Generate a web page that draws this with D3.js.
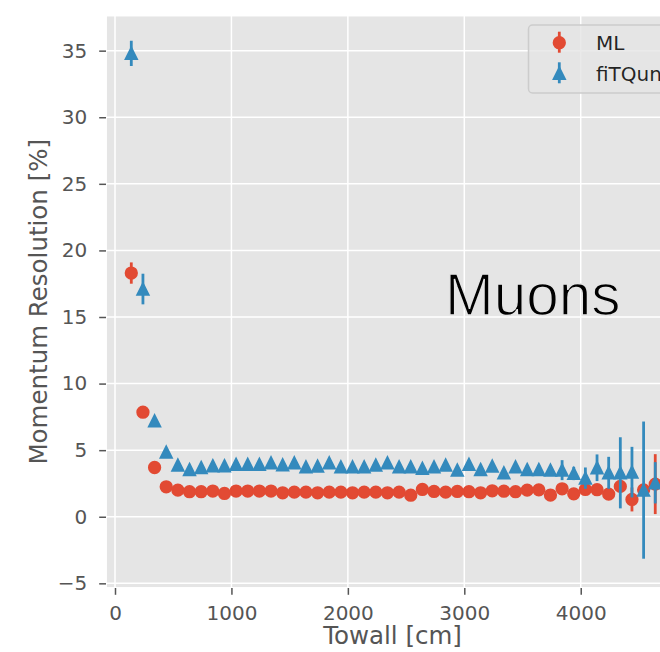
<!DOCTYPE html>
<html>
<head>
<meta charset="utf-8">
<script src="https://cdn.jsdelivr.net/npm/d3@7"></script>
<style>
  html, body { margin: 0; padding: 0; background: #ffffff; overflow: hidden; }
  svg { display: block; }
</style>
</head>
<body>
<script>
// Towall bin centres [cm]
const towall = [140, 240, 340, 440, 540, 640, 740, 840, 940, 1040,
  1140, 1240, 1340, 1440, 1540, 1640, 1740, 1840, 1940, 2040,
  2140, 2240, 2340, 2440, 2540, 2640, 2740, 2840, 2940, 3040,
  3140, 3240, 3340, 3440, 3540, 3640, 3740, 3840, 3940, 4040,
  4140, 4240, 4340, 4440, 4540, 4640];

// ML momentum resolution [%] and its uncertainty
const mlRes = [18.3, 7.85, 3.7, 2.25, 2.0, 1.88, 1.88, 1.93, 1.75, 1.93,
  1.93, 1.93, 1.93, 1.8, 1.85, 1.85, 1.8, 1.85, 1.85, 1.8,
  1.85, 1.85, 1.8, 1.85, 1.62, 2.05, 1.9, 1.85, 1.9, 1.88,
  1.8, 1.95, 1.92, 1.88, 2.0, 2.02, 1.63, 2.1, 1.72, 2.05,
  2.03, 1.7, 2.28, 1.3, 2.02, 2.45];
const mlErr = [0.8, 0.3, 0.2, 0.15, 0.1, 0.1, 0.1, 0.1, 0.1, 0.1,
  0.1, 0.1, 0.1, 0.1, 0.1, 0.1, 0.1, 0.1, 0.1, 0.1,
  0.1, 0.1, 0.1, 0.1, 0.1, 0.1, 0.1, 0.1, 0.1, 0.1,
  0.1, 0.1, 0.1, 0.1, 0.15, 0.15, 0.15, 0.15, 0.2, 0.2,
  0.25, 0.3, 0.4, 0.9, 0.4, 2.25];

// fiTQun momentum resolution [%] and its uncertainty
const fqRes = [34.8, 17.1, 7.2, 4.85, 3.88, 3.55, 3.7, 3.83, 3.83, 3.93,
  3.93, 3.93, 4.05, 3.9, 4.05, 3.75, 3.8, 4.05, 3.75, 3.75,
  3.75, 3.88, 4.05, 3.75, 3.75, 3.63, 3.75, 3.88, 3.5, 3.93,
  3.55, 3.8, 3.3, 3.75, 3.55, 3.55, 3.5, 3.5, 3.25, 2.9,
  3.68, 3.3, 3.3, 3.35, 2.0, 2.55];
const fqErr = [0.95, 1.15, 0.3, 0.2, 0.15, 0.15, 0.15, 0.15, 0.15, 0.15,
  0.15, 0.15, 0.15, 0.15, 0.15, 0.15, 0.15, 0.15, 0.15, 0.15,
  0.15, 0.15, 0.2, 0.2, 0.2, 0.2, 0.2, 0.2, 0.2, 0.2,
  0.25, 0.25, 0.25, 0.3, 0.3, 0.3, 0.35, 0.75, 0.5, 0.8,
  1.0, 1.2, 2.67, 1.9, 5.15, 1.55];

const xTicks = [0, 1000, 2000, 3000, 4000];
const yTicks = [-5, 0, 5, 10, 15, 20, 25, 30, 35];
const seriesNames = ["ML", "fiTQun"];

const W = 660, H = 652;
const RED = "#E24A33", BLUE = "#348ABD", TXT = "#555555";
const FONT = "DejaVu Sans, sans-serif";

const svg = d3.select("body").append("svg")
  .attr("width", W).attr("height", H);

const x = d3.scaleLinear().domain([-77.3, 4844]).range([106, 679]);
const y = d3.scaleLinear().domain([-5.35, 37.64]).range([588, 15.5]);
const [xl, xr] = x.range();
const [yb, yt] = y.range();

// axes background
svg.append("rect")
  .attr("x", xl).attr("y", yt)
  .attr("width", xr - xl).attr("height", yb - yt)
  .attr("fill", "#E5E5E5");

// grid
const grid = svg.append("g");
grid.selectAll("line.gx").data(xTicks).join("line")
  .attr("x1", d => x(d)).attr("x2", d => x(d))
  .attr("y1", yt).attr("y2", yb)
  .attr("stroke", "#fff").attr("stroke-width", 1.5);
grid.selectAll("line.gy").data(yTicks).join("line")
  .attr("y1", d => y(d)).attr("y2", d => y(d))
  .attr("x1", xl).attr("x2", xr)
  .attr("stroke", "#fff").attr("stroke-width", 1.5);

// white frame edge
svg.append("rect")
  .attr("x", xl).attr("y", yt)
  .attr("width", xr - xl).attr("height", yb - yt)
  .attr("fill", "none").attr("stroke", "#fff").attr("stroke-width", 1.9);

// axes
const fmt = d3.format("d");
const yAxis = svg.append("g")
  .attr("transform", `translate(${xl},0)`)
  .call(d3.axisLeft(y).tickValues(yTicks).tickFormat(fmt).tickSize(6.8).tickPadding(12));
const xAxis = svg.append("g")
  .attr("transform", `translate(0,${yb})`)
  .call(d3.axisBottom(x).tickValues(xTicks).tickFormat(fmt).tickSize(6.8).tickPadding(10.5));
[yAxis, xAxis].forEach(g => {
  g.select(".domain").remove();
  g.selectAll(".tick line").attr("stroke", TXT).attr("stroke-width", 1.5);
  g.selectAll(".tick text").attr("fill", TXT)
    .style("font-family", FONT).style("font-size", "20px");
});

// axis labels, centred on the axes box
svg.append("text")
  .attr("x", (xl + xr) / 2).attr("y", 644)
  .attr("text-anchor", "middle")
  .style("font-family", FONT).style("font-size", "24.5px").attr("fill", TXT)
  .text("Towall [cm]");
svg.append("text")
  .attr("transform", `translate(46.5,${(yb + yt) / 2}) rotate(-90)`)
  .attr("text-anchor", "middle")
  .style("font-family", FONT).style("font-size", "24.5px").attr("fill", TXT)
  .text("Momentum Resolution [%]");

// data clipped to the axes
svg.append("defs").append("clipPath").attr("id", "plotclip")
  .append("rect")
  .attr("x", xl).attr("y", yt)
  .attr("width", xr - xl).attr("height", yb - yt);
const plot = svg.append("g").attr("clip-path", "url(#plotclip)");

const MS = 5.7; // half marker size in px
const triPath = `M0,${-MS}L${MS},${MS}L${-MS},${MS}Z`;

function drawSeries(vals, errs, color, marker) {
  const pts = towall.map((t, i) => ({ t, v: vals[i], e: errs[i] }));
  const g = plot.append("g");
  g.selectAll("line").data(pts).join("line")
    .attr("x1", d => x(d.t)).attr("x2", d => x(d.t))
    .attr("y1", d => y(d.v - d.e)).attr("y2", d => y(d.v + d.e))
    .attr("stroke", color).attr("stroke-width", 2.8);
  if (marker === "o") {
    g.selectAll("circle").data(pts).join("circle")
      .attr("cx", d => x(d.t)).attr("cy", d => y(d.v)).attr("r", MS)
      .attr("fill", color).attr("stroke", color).attr("stroke-width", 1.9);
  } else {
    g.selectAll("path").data(pts).join("path")
      .attr("transform", d => `translate(${x(d.t)},${y(d.v)})`)
      .attr("d", triPath)
      .attr("fill", color).attr("stroke", color).attr("stroke-width", 1.9)
      .attr("stroke-linejoin", "miter");
  }
}
drawSeries(mlRes, mlErr, RED, "o");
drawSeries(fqRes, fqErr, BLUE, "^");

// annotation (thin-weight look: fill, then a background-coloured outline)
svg.append("text")
  .attr("x", 445).attr("y", 315)
  .style("font-family", "Liberation Sans, Arial, sans-serif")
  .style("font-size", "58.5px")
  .attr("fill", "#000")
  .attr("stroke", "#E5E5E5").attr("stroke-width", 1.4)
  .style("paint-order", "fill stroke")
  .text("Muons");

// legend (upper right, partly beyond the page edge)
const lg = svg.append("g");
lg.append("rect")
  .attr("x", 528.5).attr("y", 25).attr("width", 140).attr("height", 68)
  .attr("rx", 4).attr("fill", "#E5E5E5").attr("fill-opacity", 0.8)
  .attr("stroke", "#CCCCCC").attr("stroke-width", 1.5);
const rows = [
  { name: seriesNames[0], color: RED, marker: "o", cy: 42.7 },
  { name: seriesNames[1], color: BLUE, marker: "^", cy: 73.3 }
];
rows.forEach(r => {
  lg.append("line")
    .attr("x1", 559.3).attr("x2", 559.3)
    .attr("y1", r.cy - 11).attr("y2", r.cy + 10)
    .attr("stroke", r.color).attr("stroke-width", 2.8);
  if (r.marker === "o") {
    lg.append("circle").attr("cx", 559.3).attr("cy", r.cy).attr("r", MS)
      .attr("fill", r.color).attr("stroke", r.color).attr("stroke-width", 1.9);
  } else {
    lg.append("path").attr("transform", `translate(559.3,${r.cy})`).attr("d", triPath)
      .attr("fill", r.color).attr("stroke", r.color).attr("stroke-width", 1.9);
  }
  lg.append("text")
    .attr("x", 596).attr("y", r.cy + 7.5)
    .style("font-family", FONT).style("font-size", "20px").attr("fill", "#000")
    .attr("fill-opacity", 0.85)
    .text(r.name);
});
</script>
</body>
</html>
